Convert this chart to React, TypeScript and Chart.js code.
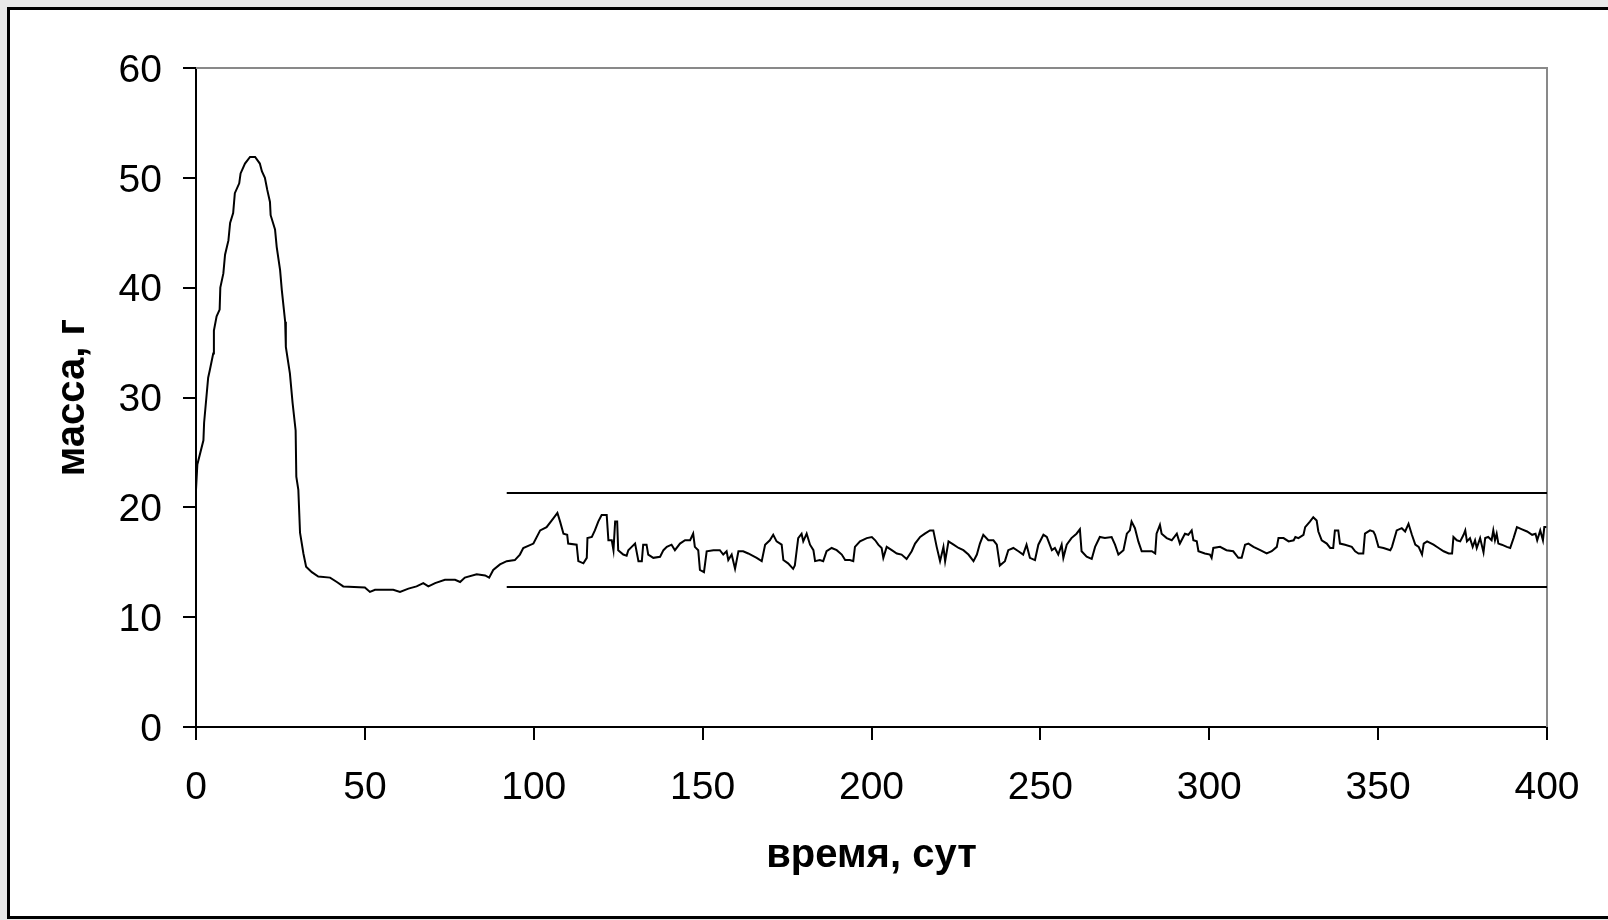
import React, { useEffect, useRef } from "react";
import { Chart, registerables } from "chart.js";

Chart.register(...registerables);

// время, сут
const days: number[] = [
  0, 0.4, 2.2, 2.4, 3.6, 4.1, 5.1, 5.3, 6.1, 7.0, 7.2, 8.1, 8.6, 9.6, 10.1, 11.0, 11.5, 12.8, 13.2, 14.5,
  16.0, 17.5, 18.9, 19.5, 20.4, 21.1, 21.9, 22.1, 23.4, 23.9, 24.9, 25.4, 26.4, 26.6, 27.8, 28.6, 29.5, 29.7, 30.3, 30.8,
  31.8, 32.6, 34.3, 36.2, 39.7, 41.7, 43.6, 50.0, 51.5, 53.0, 58.4, 60.4, 62.9, 65.3, 67.3, 68.8, 70.8, 73.7, 76.7, 78.2,
  79.6, 83.1, 85.6, 86.8, 88.0, 90.0, 92.0, 94.4, 95.9, 96.9, 99.9, 101.9, 103.8, 105.8, 107.0, 107.8, 108.8, 109.9, 110.2, 112.7,
  113.2, 114.7, 115.7, 115.9, 117.2, 118.1, 119.1, 120.1, 121.6, 122.1, 123.1, 123.6, 124.1, 124.7, 125.0, 126.5, 127.5, 128.0, 129.0, 130.0,
  131.0, 132.0, 132.4, 133.4, 133.9, 135.4, 137.4, 138.4, 139.4, 140.8, 141.8, 143.3, 144.8, 146.3, 147.2, 147.7, 148.7, 149.2, 150.4, 151.2,
  153.2, 155.1, 156.1, 157.1, 157.6, 158.6, 159.6, 160.6, 162.0, 163.5, 166.0, 167.5, 168.5, 169.9, 170.9, 171.9, 173.4, 173.9, 175.3, 176.8,
  177.3, 178.3, 179.3, 179.8, 180.8, 181.8, 182.8, 183.3, 184.7, 185.7, 186.7, 188.2, 189.7, 191.2, 192.2, 193.6, 194.6, 195.1, 196.6, 198.6,
  200.1, 201.1, 202.0, 203.0, 203.5, 204.5, 206.0, 207.5, 208.9, 210.4, 211.9, 212.9, 214.4, 215.8, 217.3, 218.3, 219.3, 220.3, 221.3, 221.8,
  222.8, 224.3, 225.8, 227.2, 228.7, 230.2, 231.2, 232.1, 233.1, 234.6, 236.1, 237.1, 238.0, 239.5, 240.5, 242.0, 243.5, 244.9, 245.9, 246.9,
  248.4, 249.4, 250.9, 251.9, 253.4, 254.3, 255.3, 256.3, 256.8, 257.8, 259.2, 260.7, 261.7, 262.2, 263.7, 265.2, 266.2, 267.6, 269.1, 271.1,
  272.1, 273.1, 274.6, 275.6, 276.5, 277.0, 278.0, 279.0, 280.0, 281.5, 283.0, 284.0, 284.4, 285.4, 285.9, 287.4, 288.9, 290.4, 291.3, 292.8,
  293.8, 294.8, 295.3, 296.3, 296.8, 298.7, 300.2, 300.7, 301.2, 303.2, 305.1, 307.1, 308.6, 309.6, 310.6, 311.6, 313.1, 315.1, 317.0, 318.5,
  320.0, 320.5, 322.0, 323.5, 325.0, 325.5, 326.4, 327.9, 328.4, 329.8, 330.8, 331.8, 332.3, 333.3, 334.8, 335.8, 336.7, 337.2, 338.2, 338.7,
  340.2, 342.2, 343.2, 344.2, 345.6, 346.1, 347.6, 348.6, 349.1, 350.1, 351.6, 353.6, 354.1, 355.5, 357.0, 358.0, 359.0, 360.0, 361.0, 362.0,
  363.0, 363.5, 364.5, 366.4, 367.9, 369.4, 370.9, 371.9, 372.3, 373.3, 374.3, 375.3, 375.8, 376.3, 377.2, 378.0, 378.7, 379.2, 380.2, 381.2,
  381.7, 382.6, 383.6, 384.1, 384.6, 385.1, 385.6, 386.6, 388.1, 389.1, 390.1, 391.1, 392.6, 394.1, 395.6, 396.6, 397.1, 398.0, 398.8, 399.2,
  399.8,
];

// масса, г
const mass: number[] = [
  21.6, 23.9, 26.1, 27.7, 31.8, 32.5, 34.0, 36.1, 37.4, 38.0, 40.0, 41.3, 43.0, 44.3, 45.9, 46.8, 48.6, 49.5, 50.4, 51.3,
  51.9, 51.9, 51.3, 50.6, 50.0, 48.9, 47.8, 46.6, 45.3, 43.7, 41.6, 39.8, 36.9, 34.6, 32.2, 29.5, 27.0, 22.8, 21.6, 17.7,
  15.8, 14.6, 14.1, 13.7, 13.6, 13.2, 12.8, 12.7, 12.3, 12.5, 12.5, 12.3, 12.6, 12.8, 13.1, 12.8, 13.1, 13.4, 13.4, 13.2,
  13.6, 13.9, 13.8, 13.6, 14.3, 14.8, 15.1, 15.2, 15.7, 16.3, 16.7, 17.9, 18.2, 19.0, 19.5, 18.7, 17.6, 17.5, 16.7, 16.6,
  15.1, 14.9, 15.4, 17.2, 17.3, 17.9, 18.7, 19.3, 19.3, 17.0, 17.0, 16.1, 18.7, 18.7, 16.1, 15.7, 15.6, 16.1, 16.4, 16.7,
  15.1, 15.1, 16.6, 16.6, 15.7, 15.4, 15.5, 16.1, 16.4, 16.6, 16.1, 16.7, 17.0, 17.0, 17.6, 16.4, 16.1, 14.3, 14.1, 16.0,
  16.1, 16.1, 15.7, 16.0, 15.2, 15.7, 14.4, 16.0, 16.0, 15.8, 15.4, 15.1, 16.6, 17.0, 17.5, 16.9, 16.6, 15.2, 14.9, 14.4,
  14.7, 17.2, 17.6, 16.9, 17.6, 16.6, 16.1, 15.1, 15.2, 15.1, 16.0, 16.3, 16.1, 15.7, 15.2, 15.2, 15.1, 16.4, 16.9, 17.2,
  17.3, 17.0, 16.6, 16.3, 15.4, 16.4, 16.1, 15.8, 15.7, 15.3, 16.0, 16.7, 17.3, 17.6, 17.9, 17.9, 16.4, 15.1, 16.4, 15.1,
  16.9, 16.6, 16.3, 16.1, 15.7, 15.1, 15.7, 16.7, 17.5, 17.0, 17.0, 16.6, 14.7, 15.1, 16.1, 16.3, 16.0, 15.7, 16.6, 15.4,
  15.2, 16.6, 17.5, 17.3, 16.1, 16.3, 15.7, 16.6, 15.4, 16.6, 17.2, 17.6, 18.0, 16.0, 15.5, 15.3, 16.4, 17.3, 17.2, 17.3,
  16.6, 15.7, 16.1, 17.6, 17.9, 18.7, 18.1, 16.9, 16.0, 16.0, 16.0, 15.8, 17.6, 18.4, 17.6, 17.2, 17.0, 17.6, 16.7, 17.6,
  17.5, 17.9, 17.0, 16.9, 16.0, 15.8, 15.7, 15.4, 16.3, 16.4, 16.1, 16.0, 15.4, 15.4, 16.6, 16.7, 16.4, 16.1, 15.8, 16.0,
  16.4, 17.2, 17.2, 16.9, 17.0, 17.3, 17.2, 17.5, 18.2, 18.7, 19.1, 18.8, 17.8, 17.0, 16.7, 16.3, 16.3, 17.9, 17.9, 16.7,
  16.6, 16.4, 16.0, 15.8, 15.8, 17.6, 17.9, 17.8, 17.5, 16.4, 16.3, 16.1, 16.4, 17.9, 18.1, 17.8, 18.5, 17.5, 16.6, 16.4,
  15.7, 16.7, 16.9, 16.6, 16.3, 16.0, 15.8, 15.8, 17.3, 17.0, 16.9, 17.5, 17.9, 16.9, 17.2, 16.4, 17.0, 16.3, 17.2, 15.9,
  17.2, 17.3, 17.0, 17.9, 17.0, 17.6, 16.7, 16.6, 16.4, 16.3, 17.2, 18.2, 18.0, 17.8, 17.5, 17.6, 17.0, 17.9, 17.0, 18.2,
  18.2,
];

// горизонтальные границы коридора
const bandDays: number[] = [92, 400];
const upperBand: number[] = [21.3, 21.3];
const lowerBand: number[] = [12.75, 12.75];

const xTicks: number[] = [0, 50, 100, 150, 200, 250, 300, 350, 400];
const yTicks: number[] = [0, 10, 20, 30, 40, 50, 60];

const xTitle = "время, сут";
const yTitle = "масса, г";

const FONT = "'Liberation Sans', Arial, sans-serif";

const plotFrame = {
  id: "plotFrame",
  beforeDatasetsDraw(chart: any) {
    const { ctx, chartArea } = chart;
    ctx.save();
    ctx.strokeStyle = "#898989";
    ctx.lineWidth = 2;
    ctx.beginPath();
    ctx.moveTo(chartArea.left, chartArea.top);
    ctx.lineTo(chartArea.right, chartArea.top);
    ctx.lineTo(chartArea.right, chartArea.bottom);
    ctx.stroke();
    ctx.restore();
  },
};

export default function App() {
  const ref = useRef<HTMLCanvasElement | null>(null);

  useEffect(() => {
    if (!ref.current) return;
    const toXY = (xs: number[], ys: number[]) => xs.map((x, i) => ({ x, y: ys[i] }));
    const chart = new Chart(ref.current, {
      type: "scatter",
      data: {
        datasets: [
          {
            data: toXY(days, mass),
            showLine: true,
            borderColor: "#000",
            borderWidth: 2,
            pointRadius: 0,
            tension: 0,
          },
          {
            data: toXY(bandDays, upperBand),
            showLine: true,
            borderColor: "#000",
            borderWidth: 2,
            pointRadius: 0,
          },
          {
            data: toXY(bandDays, lowerBand),
            showLine: true,
            borderColor: "#000",
            borderWidth: 2,
            pointRadius: 0,
          },
        ],
      },
      options: {
        animation: false,
        responsive: false,
        devicePixelRatio: 1,
        layout: { padding: { top: 68, right: 61, left: 0, bottom: 0 } },
        plugins: { legend: { display: false }, tooltip: { enabled: false } },
        scales: {
          x: {
            type: "linear",
            min: 0,
            max: 400,
            afterBuildTicks: (scale: any) => {
              scale.ticks = xTicks.map((v) => ({ value: v }));
            },
            afterFit: (scale: any) => {
              scale.height = 193;
            },
            ticks: {
              font: { family: FONT, size: 39 },
              color: "#000",
              padding: 25,
              maxRotation: 0,
              autoSkip: false,
            },
            grid: {
              drawOnChartArea: false,
              drawTicks: true,
              tickLength: 13,
              color: "#000",
              lineWidth: 2,
            },
            border: { display: true, color: "#000", width: 2 },
            title: {
              display: true,
              text: xTitle,
              color: "#000",
              font: { family: FONT, size: 40, weight: "bold", lineHeight: 1.2 },
              padding: { top: 0, bottom: 40 },
            },
          },
          y: {
            type: "linear",
            min: 0,
            max: 60,
            afterBuildTicks: (scale: any) => {
              scale.ticks = yTicks.map((v) => ({ value: v }));
            },
            afterFit: (scale: any) => {
              scale.width = 196;
            },
            ticks: {
              font: { family: FONT, size: 39 },
              color: "#000",
              padding: 21,
              labelOffset: 3,
              autoSkip: false,
            },
            grid: {
              drawOnChartArea: false,
              drawTicks: true,
              tickLength: 13,
              color: "#000",
              lineWidth: 2,
            },
            border: { display: true, color: "#000", width: 2 },
            title: {
              display: true,
              text: yTitle,
              color: "#000",
              font: { family: FONT, size: 40, weight: "bold", lineHeight: 1.2 },
              padding: { top: 49, bottom: 0 },
            },
          },
        },
      },
      plugins: [plotFrame],
    });
    return () => chart.destroy();
  }, []);

  return (
    <div style={{ position: "fixed", left: 0, top: 0, width: 1608, height: 920, background: "#e9e9e9", overflow: "hidden" }}>
      <div
        style={{
          position: "absolute",
          left: 7,
          top: 7,
          width: 1640,
          height: 912,
          boxSizing: "border-box",
          border: "3px solid #000",
          background: "#fff",
        }}
      />
      <canvas
        ref={ref}
        width={1608}
        height={920}
        style={{ position: "absolute", left: 0, top: 0, width: 1608, height: 920 }}
      />
    </div>
  );
}
